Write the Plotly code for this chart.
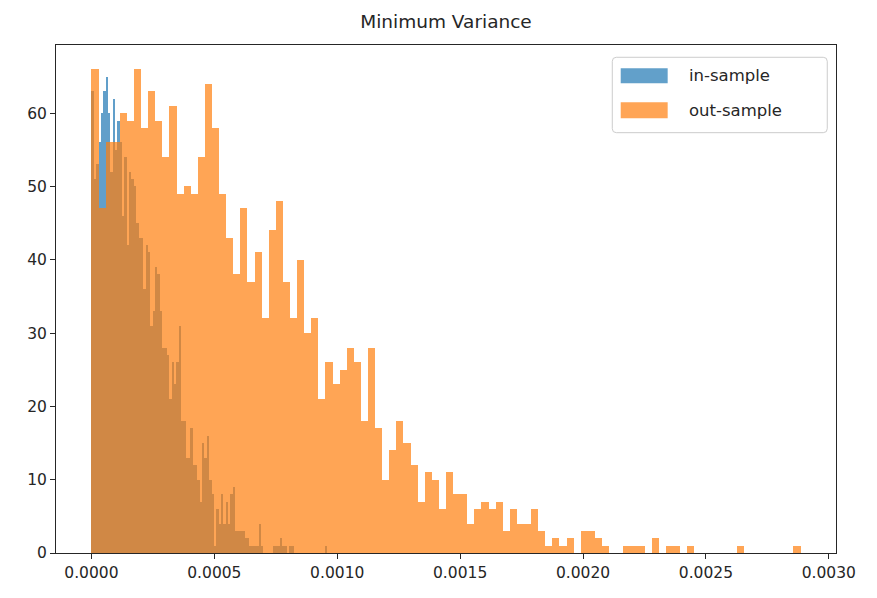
import numpy as np
import plotly.graph_objects as go

# Histogram counts per bin (100 equal-width bins for each series)
in_sample_counts = [
    63, 51, 53, 56, 60, 63, 65, 60, 52, 62,
    55, 59, 56, 46, 54, 42, 52, 51, 50, 45,
    43, 43, 36, 42, 41, 31, 33, 39, 38, 33,
    28, 28, 27, 21, 26, 23, 26, 31, 18, 18,
    13, 13, 17, 12, 12, 10, 7, 15, 13, 16,
    10, 8, 1, 6, 4, 8, 4, 7, 4, 8,
    9, 3, 3, 3, 3, 2, 2, 1, 1, 1,
    1, 4, 1, 0, 0, 0, 0, 1, 1, 1,
    2, 1, 1, 0, 1, 1, 0, 0, 0, 0,
    0, 0, 0, 0, 0, 0, 0, 0, 0, 1,
]
out_sample_counts = [
    66, 47, 56, 56, 60, 59, 66, 58, 63, 59,
    54, 61, 49, 50, 49, 54, 64, 58, 49, 43,
    38, 47, 37, 41, 32, 44, 48, 37, 32, 40,
    30, 32, 21, 26, 23, 25, 28, 26, 18, 28,
    17, 10, 14, 18, 15, 12, 7, 11, 10, 6,
    11, 8, 8, 4, 6, 7, 6, 7, 3, 6,
    4, 4, 6, 3, 1, 2, 1, 2, 0, 3,
    3, 2, 1, 0, 0, 1, 1, 1, 0, 2,
    0, 1, 1, 0, 1, 0, 0, 0, 0, 0,
    0, 1, 0, 0, 0, 0, 0, 0, 0, 1,
]
# Value range covered by each histogram
in_sample_range = [0.0, 0.000958]
out_sample_range = [0.0, 0.002885]

x_ticks = [0.0, 0.0005, 0.0010, 0.0015, 0.0020, 0.0025, 0.0030]
y_ticks = [0, 10, 20, 30, 40, 50, 60]
series_names = ["in-sample", "out-sample"]
series_colors = ["#1f77b4", "#ff7f0e"]


def bins(counts, rng):
    edges = np.linspace(rng[0], rng[1], len(counts) + 1)
    centers = (edges[:-1] + edges[1:]) / 2
    widths = np.diff(edges)
    return centers, widths


fig = go.Figure()
for counts, rng, name, color in zip(
    [in_sample_counts, out_sample_counts],
    [in_sample_range, out_sample_range],
    series_names,
    series_colors,
):
    centers, widths = bins(counts, rng)
    fig.add_trace(go.Bar(
        x=centers, y=counts, width=widths, name=name,
        marker=dict(color=color, line=dict(width=0)),
        opacity=0.7, showlegend=False,
    ))

span = out_sample_range[1] - out_sample_range[0]
x_lo = out_sample_range[0] - 0.05 * span
x_hi = out_sample_range[1] + 0.05 * span
y_hi = max(max(in_sample_counts), max(out_sample_counts)) * 1.05

font = dict(family="DejaVu Sans", size=15.5, color="#262626")

fig.update_layout(
    width=877, height=598, autosize=False,
    margin=dict(l=56, r=41, t=45, b=45),
    paper_bgcolor="white", plot_bgcolor="white",
    barmode="overlay", bargap=0,
    font=font,
    title=dict(text="Minimum Variance", x=0.5, xref="paper",
               y=1 - 22 / 598, yref="container", yanchor="middle",
               font=dict(family="DejaVu Sans", size=18.5, color="#262626")),
    xaxis=dict(range=[x_lo, x_hi], tickvals=x_ticks, tickformat=".4f",
               showgrid=False, zeroline=False, showline=True, mirror=True,
               linecolor="#262626", linewidth=1, ticks="outside",
               ticklen=5, tickcolor="#262626", tickfont=font),
    yaxis=dict(range=[0, y_hi], tickvals=y_ticks,
               showgrid=False, zeroline=False, showline=True, mirror=True,
               linecolor="#262626", linewidth=1, ticks="outside",
               ticklen=5, tickcolor="#262626", tickfont=font),
)

# Legend frame with rounded corners (plot area is 780 x 508 px)
bx0, bx1, by0, by1 = 0.7132, 0.9888, 0.8274, 0.9758
rx, ry = 4 / 780, 4 / 508
frame_path = (
    f"M {bx0 + rx} {by0} L {bx1 - rx} {by0} Q {bx1} {by0} {bx1} {by0 + ry} "
    f"L {bx1} {by1 - ry} Q {bx1} {by1} {bx1 - rx} {by1} "
    f"L {bx0 + rx} {by1} Q {bx0} {by1} {bx0} {by1 - ry} "
    f"L {bx0} {by0 + ry} Q {bx0} {by0} {bx0 + rx} {by0} Z"
)
fig.add_shape(type="path", xref="paper", yref="paper", path=frame_path,
              line=dict(color="#cccccc", width=1),
              fillcolor="rgba(255,255,255,0.8)", layer="above")
patch_rows = [(0.9246, 0.9541), (0.8557, 0.8872)]
for (y0, y1), name, color in zip(patch_rows, series_names, series_colors):
    fig.add_shape(type="rect", xref="paper", yref="paper",
                  x0=0.7240, x1=0.7842, y0=y0, y1=y1,
                  line=dict(width=0), fillcolor=color, opacity=0.7,
                  layer="above")
    fig.add_annotation(xref="paper", yref="paper", x=0.8094,
                       y=(y0 + y1) / 2, text=name, showarrow=False,
                       xanchor="left", yanchor="middle",
                       font=dict(family="DejaVu Sans", size=16.5,
                                 color="#262626"))

fig.write_html("out.html")
